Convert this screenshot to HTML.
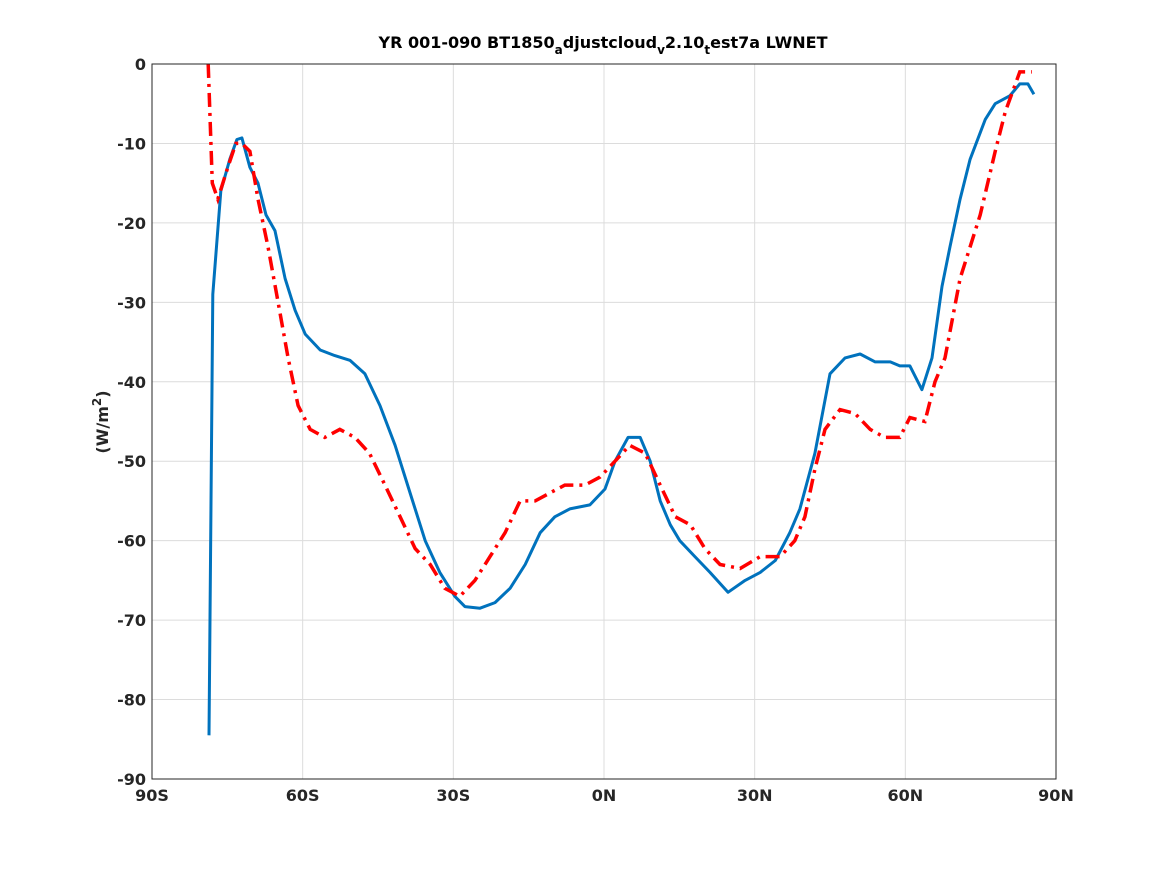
<!DOCTYPE html>
<html><head><meta charset="utf-8"><style>
body{margin:0;background:#fff;}
svg{display:block;font-family:"DejaVu Sans","Liberation Sans",sans-serif;}
</style></head><body>
<svg id="chart" width="1167" height="875">
<rect width="1167" height="875" fill="#fff"/>
<text x="603" y="48" text-anchor="middle" font-size="16" font-weight="bold" fill="#000">YR 001-090 BT1850<tspan font-size="12" dy="6">a</tspan><tspan dy="-6">djustcloud</tspan><tspan font-size="12" dy="6">v</tspan><tspan dy="-6">2.10</tspan><tspan font-size="12" dy="6">t</tspan><tspan dy="-6">est7a LWNET</tspan></text>
<g id="grid"></g>
<g id="series"></g>
<rect x="152" y="64" width="904" height="715" fill="none" stroke="#262626" stroke-width="1"/>
<g id="ticks"></g>
<text transform="translate(108,422) rotate(-90)" text-anchor="middle" font-size="16" font-weight="bold" fill="#262626">(W/m<tspan font-size="12" dy="-7">2</tspan><tspan dy="7">)</tspan></text>
</svg>
<script>
const xTickVals=[-90,-60,-30,0,30,60,90];
const xTickLabels=["90S","60S","30S","0N","30N","60N","90N"];
const yTickVals=[0,-10,-20,-30,-40,-50,-60,-70,-80,-90];
const blueLat=[-78.65,-77.9,-76.3,-74.5,-73.1,-72.1,-70.5,-68.9,-67.3,-65.5,-63.5,-61.5,-59.5,-56.5,-53.6,-50.6,-47.6,-44.6,-41.6,-38.6,-35.6,-32.7,-29.7,-27.7,-24.7,-21.7,-18.7,-15.7,-12.7,-9.8,-6.8,-2.8,0.2,2.2,4.8,7.2,9.2,11.2,13.2,15.1,18.1,21.1,24.7,28.1,31.1,34.1,37.0,39.0,42.0,45.0,48.0,51.0,54.0,57.0,58.9,60.9,63.3,65.3,67.3,68.9,70.9,72.9,75.9,77.9,80.8,82.8,84.4,85.6];
const blueVal=[-84.5,-29,-16,-12,-9.5,-9.3,-13,-15,-19,-21,-27,-31,-34,-36,-36.7,-37.3,-39,-43,-48,-54,-60,-64,-67,-68.3,-68.5,-67.8,-66,-63,-59,-57,-56,-55.5,-53.5,-50,-47,-47,-50,-55,-58,-60,-62,-64,-66.5,-65,-64,-62.5,-59,-56,-49,-39,-37,-36.5,-37.5,-37.5,-38,-38,-41,-37,-28,-23,-17,-12,-7,-5,-4,-2.5,-2.5,-3.8];
const redLat=[-78.8,-78.0,-76.9,-74.9,-73.3,-72.1,-70.5,-68.9,-66.9,-64.9,-62.9,-60.9,-58.5,-55.6,-52.6,-49.6,-46.7,-43.6,-40.6,-37.6,-34.6,-31.7,-28.7,-25.7,-22.7,-19.7,-16.7,-13.7,-10.8,-7.8,-3.8,-0.8,2.2,5.1,8.2,11.2,14.2,17.2,20.1,23.1,27.1,31.1,35.1,38.0,40.0,42.0,44.0,47.0,50.0,53.0,55.9,58.9,60.9,63.9,65.9,67.9,70.9,74.9,77.9,79.9,82.8,85.2];
const redVal=[0,-15,-17,-13,-10,-10,-11,-17,-23,-30,-37,-43,-46,-47,-46,-47,-49,-53,-57,-61,-63,-66,-67,-65,-62,-59,-55,-55,-54,-53,-53,-52,-50,-48,-49,-53,-57,-58,-61,-63,-63.5,-62,-62,-60,-57,-51,-46,-43.5,-44,-46,-47,-47,-44.5,-45,-40,-37,-27,-19,-11,-6,-1,-1];
const NS="http://www.w3.org/2000/svg";
const X=v=>152+(v+90)/180*904;
const Y=v=>64+(-v)/90*715;
const grid=document.getElementById('grid'),ticks=document.getElementById('ticks'),series=document.getElementById('series');
function mk(t,a,p){const e=document.createElementNS(NS,t);for(const k in a)e.setAttribute(k,a[k]);p.appendChild(e);return e;}
xTickVals.forEach((v,i)=>{
  const g=mk('line',{x1:X(v),x2:X(v),y1:64,y2:779,stroke:'#dcdcdc','stroke-width':1},grid);
  
  
  const t=mk('text',{x:X(v),y:801,'text-anchor':'middle','font-size':16,'font-weight':'bold',fill:'#262626'},ticks);
  t.textContent=xTickLabels[i];
  
  
});
yTickVals.forEach(v=>{
  const g=mk('line',{x1:152,x2:1056,y1:Y(v),y2:Y(v),stroke:'#dcdcdc','stroke-width':1},grid);
  
  
  const t=mk('text',{x:146,y:Y(v)+6,'text-anchor':'end','font-size':16,'font-weight':'bold',fill:'#262626'},ticks);
  t.textContent=String(v);
  
  
});
function pts(la,va){return la.map((l,i)=>X(l).toFixed(1)+','+Y(va[i]).toFixed(1)).join(' ');}
const b=mk('polyline',{points:pts(blueLat,blueVal),fill:'none',stroke:'#0072bd','stroke-width':3,'stroke-linejoin':'round'},series);


const r=mk('polyline',{points:pts(redLat,redVal),fill:'none',stroke:'#ff0000','stroke-width':3.5,'stroke-dasharray':'14,6,3,6'},series);


</script>
</body></html>
